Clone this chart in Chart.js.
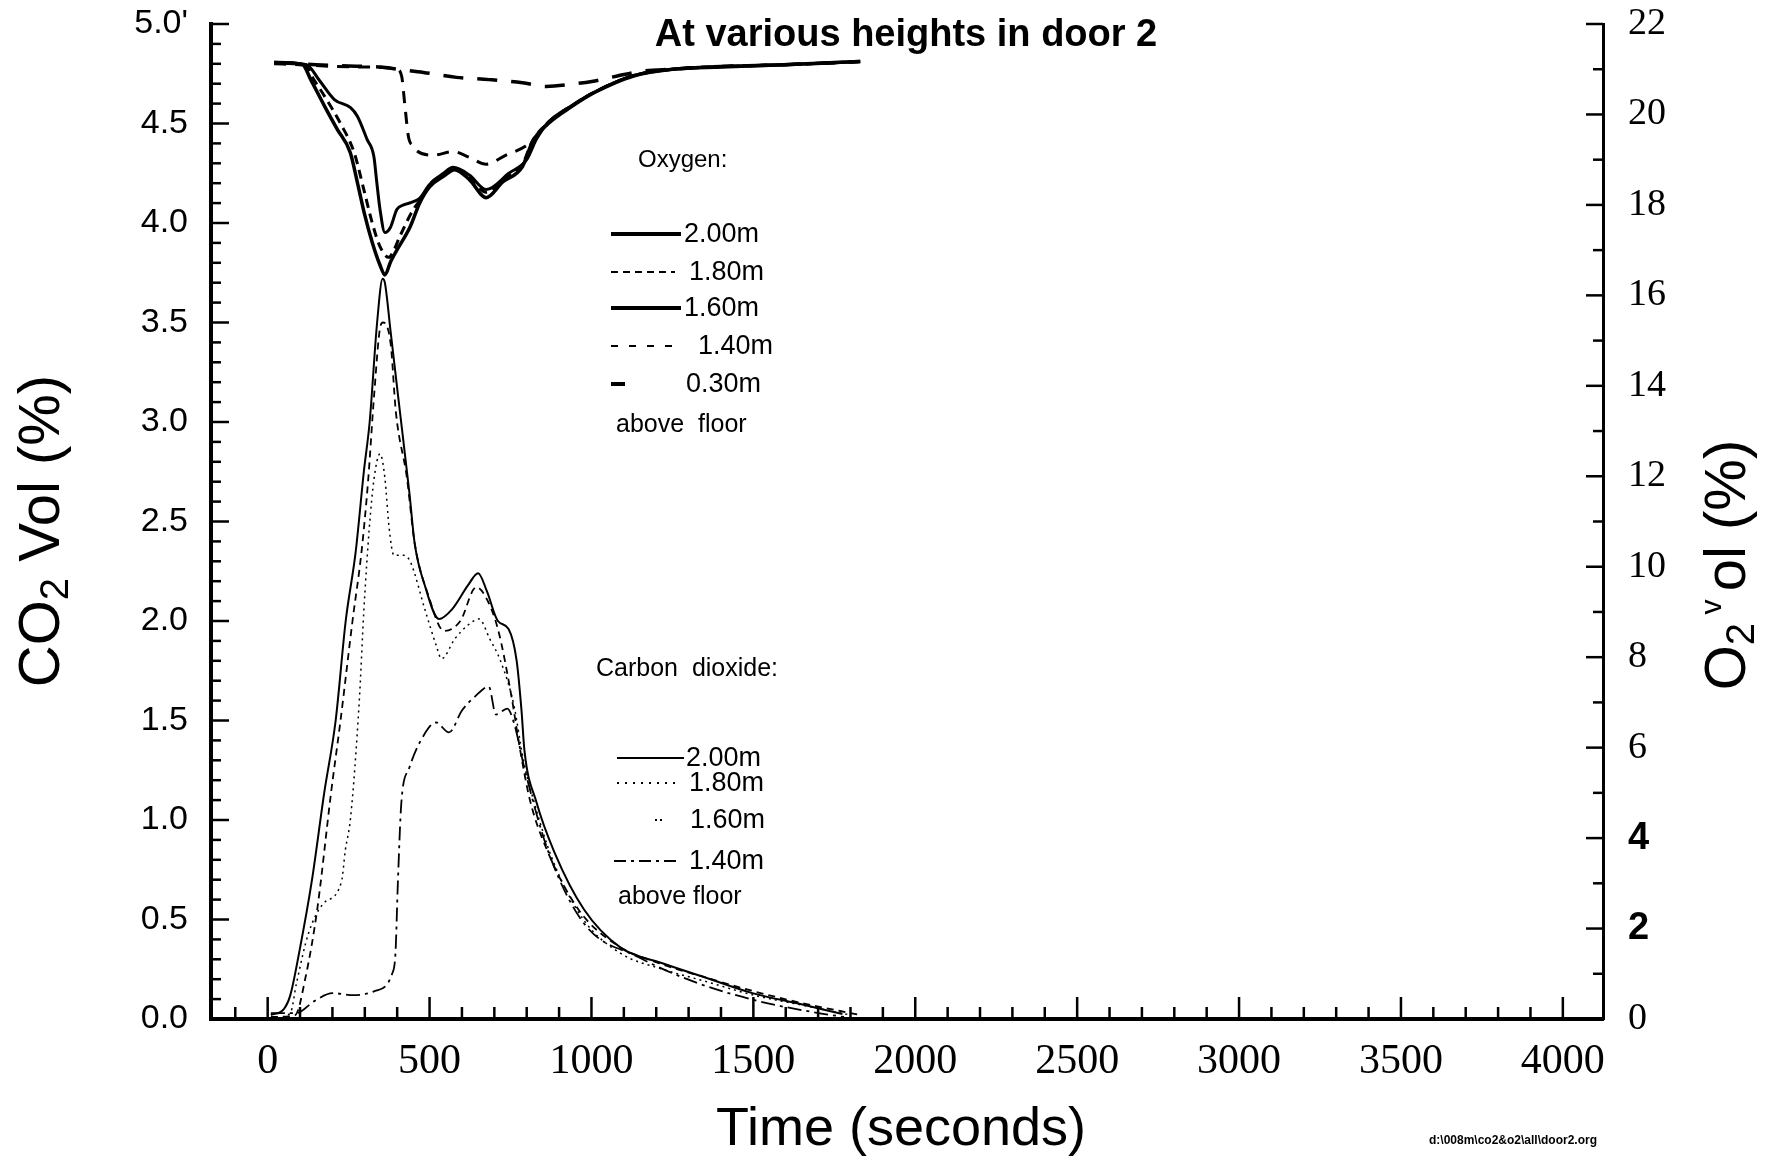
<!DOCTYPE html>
<html>
<head>
<meta charset="utf-8">
<title>CO2 / O2 door 2</title>
<script src="https://cdn.jsdelivr.net/npm/chart.js@4"></script>
<style>
  html, body { margin: 0; padding: 0; background: #fff; }
  canvas { display: block; }
</style>
</head>
<body>
<canvas id="doorChart" width="1772" height="1165" style="width:1772px;height:1165px"></canvas>
<script>
// --- axes ---
const xTickValues = [0, 500, 1000, 1500, 2000, 2500, 3000, 3500, 4000];
const xTickLabels = ['0', '500', '1000', '1500', '2000', '2500', '3000', '3500', '4000'];
const co2TickValues = [0, 0.5, 1, 1.5, 2, 2.5, 3, 3.5, 4, 4.5, 5];
const co2TickLabels = ['0.0', '0.5', '1.0', '1.5', '2.0', '2.5', '3.0', '3.5', '4.0', '4.5', "5.0'"];
const o2TickValues = [0, 2, 4, 6, 8, 10, 12, 14, 16, 18, 20, 22];
const o2TickLabels = ['0', '2', '4', '6', '8', '10', '12', '14', '16', '18', '20', '22'];

// --- legends ---
const o2Heights = ['2.00m', '1.80m', '1.60m', '1.40m', '0.30m'];
const co2Heights = ['2.00m', '1.80m', '1.60m', '1.40m'];

// --- oxygen, [time s, O2 %] ---
const o2_200 = [[20,21.15],[108,21.1],[133,20.77],[176,20.18],[215,19.67],[255,19.16],[277,18.5],[298,17.83],[323,17.17],[348,16.65],[362,16.45],[380,16.75],[399,17.0],[439,17.5],[470,18.05],[500,18.4],[543,18.63],[577,18.78],[623,18.56],[675,18.16],[725,18.5],[787,18.85],[818,19.4],[867,19.8],[940,20.18],[1011,20.49],[1130,20.85],[1250,21.0],[1400,21.05],[1595,21.1],[1830,21.17]];
const o2_180 = [[20,21.15],[115,21.1],[140,20.8],[176,20.4],[225,19.8],[267,19.16],[297,18.34],[323,17.6],[347,17.08],[374,16.84],[390,17.0],[408,17.3],[450,17.9],[470,18.1],[500,18.45],[543,18.68],[577,18.8],[623,18.62],[675,18.28],[725,18.55],[787,18.9],[818,19.42],[867,19.82],[940,20.2],[1011,20.5],[1130,20.86],[1250,21.0],[1400,21.06],[1595,21.1],[1830,21.17]];
const o2_160 = [[20,21.15],[120,21.1],[160,20.75],[206,20.33],[256,20.15],[277,19.96],[307,19.45],[328,19.07],[337,18.5],[347,17.9],[362,17.39],[379,17.5],[399,17.9],[420,18.0],[450,18.07],[470,18.15],[500,18.45],[543,18.7],[573,18.83],[623,18.66],[675,18.34],[745,18.7],[800,19.0],[830,19.45],[867,19.83],[940,20.2],[1011,20.5],[1130,20.86],[1250,21.0],[1400,21.06],[1595,21.1],[1830,21.17]];
const o2_140 = [[20,21.12],[100,21.1],[215,21.06],[300,21.05],[399,21.0],[414,20.84],[424,20.18],[435,19.5],[450,19.3],[460,19.2],[512,19.1],[573,19.18],[623,19.05],[675,18.9],[736,19.1],[797,19.3],[828,19.5],[867,19.83],[940,20.2],[1011,20.5],[1130,20.86],[1250,21.0],[1400,21.06],[1595,21.1],[1830,21.17]];
const o2_030 = [[20,21.15],[150,21.1],[250,21.07],[350,21.05],[400,21.0],[481,20.93],[583,20.82],[684,20.77],[787,20.7],[860,20.62],[950,20.68],[1001,20.73],[1080,20.85],[1150,20.95],[1250,21.0],[1400,21.06],[1595,21.1],[1830,21.17]];

// --- carbon dioxide, [time s, CO2 %] ---
const co2_200 = [[10,0.02],[50,0.05],[70,0.12],[98,0.34],[136,0.69],[175,1.14],[210,1.5],[241,2.0],[272,2.35],[297,2.75],[315,3.0],[338,3.5],[355,3.72],[362,3.7],[380,3.45],[405,3.1],[438,2.64],[454,2.39],[487,2.17],[529,2.01],[570,2.06],[619,2.18],[650,2.24],[677,2.15],[711,2.0],[744,1.96],[769,1.8],[784,1.55],[793,1.35],[830,1.09],[885,0.84],[977,0.55],[1089,0.36],[1219,0.28],[1349,0.21],[1497,0.13],[1645,0.075],[1775,0.025]];
const co2_180 = [[10,0.01],[85,0.02],[117,0.21],[153,0.55],[196,1.14],[225,1.5],[262,2.0],[290,2.35],[310,2.7],[329,3.14],[348,3.48],[356,3.5],[380,3.39],[396,3.05],[430,2.72],[454,2.39],[496,2.13],[545,1.95],[595,2.0],[644,2.17],[670,2.13],[711,1.96],[752,1.63],[780,1.35],[810,1.1],[860,0.86],[960,0.55],[1080,0.37],[1210,0.28],[1350,0.21],[1500,0.14],[1650,0.08],[1830,0.02]];
const co2_160 = [[10,0.0],[70,0.03],[89,0.18],[126,0.43],[172,0.58],[228,0.69],[240,0.85],[256,1.01],[283,1.6],[297,2.05],[314,2.47],[329,2.72],[347,2.84],[362,2.72],[375,2.47],[390,2.33],[420,2.33],[440,2.3],[487,2.05],[520,1.88],[537,1.81],[578,1.91],[619,1.98],[653,2.01],[686,1.91],[719,1.8],[760,1.58],[790,1.3],[830,1.05],[880,0.8],[975,0.5],[1090,0.33],[1220,0.25],[1350,0.19],[1500,0.12],[1650,0.07],[1800,0.02]];
const co2_140 = [[10,0.03],[89,0.03],[144,0.09],[200,0.13],[264,0.12],[330,0.14],[385,0.23],[395,0.34],[402,0.68],[413,1.09],[437,1.26],[480,1.42],[520,1.49],[560,1.44],[600,1.55],[640,1.62],[683,1.67],[705,1.53],[740,1.56],[762,1.48],[793,1.26],[867,0.84],[977,0.48],[1146,0.31],[1312,0.19],[1515,0.09],[1701,0.03],[1780,0.01]];

const toPoints = arr => arr.map(([x, y]) => ({ x: x, y: y }));

const SANS = '"Liberation Sans", Arial, sans-serif';
const SERIF = '"Liberation Serif", "Times New Roman", serif';

// ticks pointing into the plot, titles and legends
const decorPlugin = {
    id: 'decor',
    afterDraw(chart) {
        const { ctx, chartArea: ca, scales } = chart;
        const x = scales.x, y = scales.y, y2 = scales.y2;
        const seg = (x1, y1, x2, y2_) => { ctx.beginPath(); ctx.moveTo(x1, y1); ctx.lineTo(x2, y2_); ctx.stroke(); };

        ctx.save();
        ctx.strokeStyle = '#000';
        ctx.fillStyle = '#000';

        // left axis: minor every 0.1, major every 0.5
        ctx.lineWidth = 2.5;
        for (let i = 1; i <= 50; i++) {
            const py = y.getPixelForValue(i / 10);
            seg(ca.left, py, ca.left + (i % 5 === 0 ? 18 : 10), py);
        }
        // right axis: every 1, long on even values
        for (let v = 1; v <= 22; v++) {
            const py = y2.getPixelForValue(v);
            seg(ca.right - (v % 2 === 0 ? 17 : 10), py, ca.right, py);
        }
        // bottom axis: minor every 100, major every 500
        for (let t = -100; t <= 4000; t += 100) {
            const px = x.getPixelForValue(t);
            seg(px, ca.bottom, px, ca.bottom - (t % 500 === 0 ? 22 : 12));
        }

        // chart title (first line is cut off in the scan)
        ctx.textAlign = 'center';
        ctx.textBaseline = 'middle';
        ctx.font = 'bold 38px ' + SANS;
        ctx.fillText('At various heights in door 2', 906, 36);

        // x title
        ctx.font = '54px ' + SANS;
        ctx.fillText('Time (seconds)', 901, 1130);

        // footnote
        ctx.font = 'bold 12px ' + SANS;
        ctx.fillText('d:\\008m\\co2&o2\\all\\door2.org', 1513, 1141);

        // left title CO2 Vol (%)
        ctx.save();
        ctx.translate(43, 531);
        ctx.rotate(-Math.PI / 2);
        ctx.textAlign = 'left';
        ctx.textBaseline = 'middle';
        ctx.font = '58px ' + SANS;
        const wCO = ctx.measureText('CO').width;
        ctx.font = '40px ' + SANS;
        const w2 = ctx.measureText('2').width;
        ctx.font = '58px ' + SANS;
        const wRest = ctx.measureText(' Vol (%)').width;
        let sx = -(wCO + w2 + wRest) / 2;
        ctx.fillText('CO', sx, 0);
        ctx.font = '40px ' + SANS;
        ctx.fillText('2', sx + wCO, 14);
        ctx.font = '58px ' + SANS;
        ctx.fillText(' Vol (%)', sx + wCO + w2, 0);
        ctx.restore();

        // right title O2 v ol (%)
        ctx.save();
        ctx.translate(1729, 565);
        ctx.rotate(-Math.PI / 2);
        ctx.textAlign = 'left';
        ctx.textBaseline = 'middle';
        ctx.font = '58px ' + SANS;
        const wO = ctx.measureText('O').width;
        const wOl = ctx.measureText('ol (%)').width;
        ctx.font = '40px ' + SANS;
        const w2b = ctx.measureText('2').width;
        ctx.font = '30px ' + SANS;
        const wv = ctx.measureText(' v ').width;
        sx = -(wO + w2b + wv + wOl) / 2;
        ctx.font = '58px ' + SANS;
        ctx.fillText('O', sx, 0);
        ctx.font = '40px ' + SANS;
        ctx.fillText('2', sx + wO, 14);
        ctx.font = '30px ' + SANS;
        ctx.fillText(' v ', sx + wO + w2b, -16);
        ctx.font = '58px ' + SANS;
        ctx.fillText('ol (%)', sx + wO + w2b + wv, 0);
        ctx.restore();

        // oxygen legend
        ctx.textAlign = 'left';
        ctx.textBaseline = 'middle';
        ctx.font = '24px ' + SANS;
        ctx.fillText('Oxygen:', 638, 160);
        const o2Rows = [
            { y: 234, x2: 681, w: 4, dash: [], tx: 684 },
            { y: 272, x2: 675, w: 2, dash: [7, 5], tx: 689 },
            { y: 308, x2: 681, w: 4, dash: [], tx: 684 },
            { y: 346, x2: 675, w: 2, dash: [7, 11], tx: 698 },
            { y: 384, x2: 625, w: 4, dash: [], tx: 686 }
        ];
        ctx.font = '27px ' + SANS;
        o2Rows.forEach((r, i) => {
            ctx.lineWidth = r.w;
            ctx.setLineDash(r.dash);
            seg(611, r.y, r.x2, r.y);
            ctx.fillText(o2Heights[i], r.tx, r.y + 1);
        });
        ctx.setLineDash([]);
        ctx.font = '25px ' + SANS;
        ctx.fillText('above  floor', 616, 425);

        // carbon dioxide legend
        ctx.font = '25px ' + SANS;
        ctx.fillText('Carbon  dioxide:', 596, 669);
        const co2Rows = [
            { y: 758, x1: 617, x2: 684, w: 1.8, dash: [], tx: 686 },
            { y: 783, x1: 617, x2: 678, w: 1.8, dash: [2, 6], tx: 689 },
            { y: 820, x1: 655, x2: 662, w: 1.8, dash: [2, 3], tx: 690 },
            { y: 861, x1: 614, x2: 681, w: 1.8, dash: [12, 5, 3, 5], tx: 689 }
        ];
        ctx.font = '27px ' + SANS;
        co2Rows.forEach((r, i) => {
            ctx.lineWidth = r.w;
            ctx.setLineDash(r.dash);
            seg(r.x1, r.y, r.x2, r.y);
            ctx.fillText(co2Heights[i], r.tx, r.y + 1);
        });
        ctx.setLineDash([]);
        ctx.font = '25px ' + SANS;
        ctx.fillText('above floor', 618, 897);

        ctx.restore();
    }
};

function lineSet(label, data, axis, width, dash) {
    return {
        label: label,
        data: toPoints(data),
        yAxisID: axis,
        borderColor: '#000',
        backgroundColor: 'transparent',
        borderWidth: width,
        borderDash: dash,
        pointRadius: 0,
        fill: false,
        cubicInterpolationMode: 'monotone'
    };
}

// fixed box sizes so the plot sits where the scan has it
function fixBox(prop, size) {
    return s => {
        s[prop] = size;
        s.paddingTop = 0; s.paddingBottom = 0;
        s.paddingLeft = 0; s.paddingRight = 0;
    };
}

const ctx = document.getElementById('doorChart').getContext('2d');
new Chart(ctx, {
    type: 'line',
    data: {
        datasets: [
            lineSet('O2 2.00m', o2_200, 'y2', 3.5, []),
            lineSet('O2 1.80m', o2_180, 'y2', 3, [9, 6]),
            lineSet('O2 1.60m', o2_160, 'y2', 3, []),
            lineSet('O2 1.40m', o2_140, 'y2', 3, [12, 9]),
            lineSet('O2 0.30m', o2_030, 'y2', 3.5, [20, 14]),
            lineSet('CO2 2.00m', co2_200, 'y', 2, []),
            lineSet('CO2 1.80m', co2_180, 'y', 1.8, [7, 5]),
            lineSet('CO2 1.60m', co2_160, 'y', 1.5, [2, 4]),
            lineSet('CO2 1.40m', co2_140, 'y', 1.8, [14, 5, 3, 5])
        ]
    },
    options: {
        responsive: false,
        devicePixelRatio: 1,
        animation: false,
        layout: { padding: { top: 24, left: 0, right: 0, bottom: 0 } },
        plugins: { legend: { display: false }, tooltip: { enabled: false } },
        scales: {
            x: {
                type: 'linear',
                min: -175,
                max: 4124,
                grid: { display: false, drawTicks: false },
                border: { display: true, width: 4, color: '#000' },
                afterBuildTicks: s => { s.ticks = xTickValues.map(v => ({ value: v })); },
                afterFit: fixBox('height', 146),
                ticks: {
                    padding: 18,
                    color: '#000',
                    font: { family: SERIF, size: 42 },
                    callback: v => xTickLabels[xTickValues.indexOf(v)]
                }
            },
            y: {
                position: 'left',
                min: 0,
                max: 5,
                grid: { display: false, drawTicks: false },
                border: { display: true, width: 4, color: '#000' },
                afterBuildTicks: s => { s.ticks = co2TickValues.map(v => ({ value: v })); },
                afterFit: fixBox('width', 211),
                ticks: {
                    padding: 23,
                    color: '#000',
                    font: { family: SANS, size: 34 },
                    callback: v => co2TickLabels[co2TickValues.indexOf(v)]
                }
            },
            y2: {
                position: 'right',
                min: 0,
                max: 22,
                grid: { display: false, drawTicks: false },
                border: { display: true, width: 3, color: '#000' },
                afterBuildTicks: s => { s.ticks = o2TickValues.map(v => ({ value: v })); },
                afterFit: fixBox('width', 169),
                ticks: {
                    padding: 25,
                    color: '#000',
                    font: c => ({
                        family: (c.tick && (c.tick.value === 2 || c.tick.value === 4)) ? SANS : SERIF,
                        size: 38,
                        weight: (c.tick && (c.tick.value === 2 || c.tick.value === 4)) ? 'bold' : 'normal'
                    }),
                    callback: v => o2TickLabels[o2TickValues.indexOf(v)]
                }
            }
        }
    },
    plugins: [decorPlugin]
});
</script>
</body>
</html>
